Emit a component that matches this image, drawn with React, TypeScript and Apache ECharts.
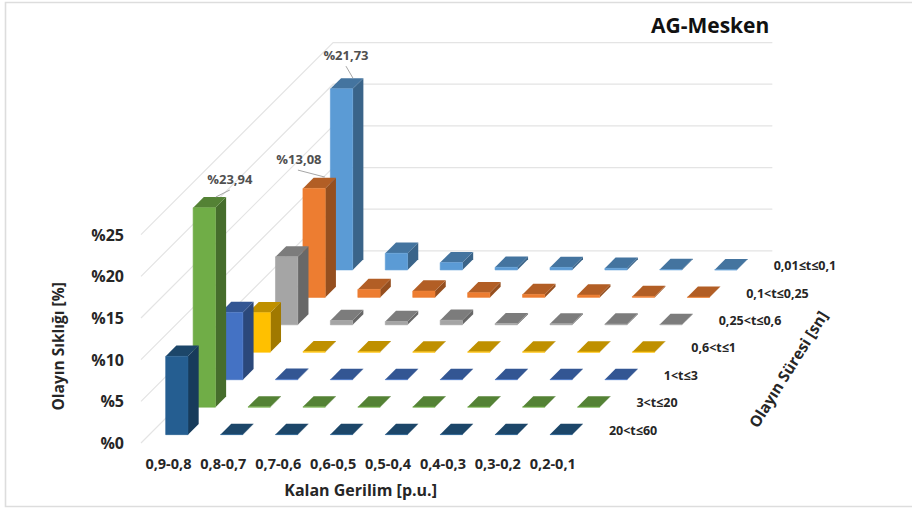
import React, { useEffect, useRef } from "react";
import * as echarts from "echarts";

// Remaining voltage bands along the front of the floor.
const voltageBands = ["0,9-0,8", "0,8-0,7", "0,7-0,6", "0,6-0,5", "0,5-0,4", "0,4-0,3", "0,3-0,2", "0,2-0,1"];

// Duration classes, listed from the front row to the back row.
const durationClasses = ["20<t≤60", "3<t≤20", "1<t≤3", "0,6<t≤1", "0,25<t≤0,6", "0,1<t≤0,25", "0,01≤t≤0,1"];

// Event frequency in percent for every duration class.
const row20to60 = [9.4, 0.03, 0.03, 0.03, 0.03, 0.03, 0.02, 0.02];
const row3to20 = [23.94, 0.04, 0.04, 0.03, 0.03, 0.03, 0.03, 0.02];
const row1to3 = [8.08, 0.05, 0.04, 0.04, 0.03, 0.03, 0.03, 0.03];
const row06to1 = [4.75, 0.08, 0.06, 0.05, 0.05, 0.05, 0.04, 0.04];
const row025to06 = [8.16, 0.52, 0.4, 0.56, 0.15, 0.12, 0.1, 0.05];
const row01to025 = [13.08, 0.96, 0.76, 0.56, 0.36, 0.28, 0.12, 0.03];
const row001to01 = [21.73, 2.0, 0.88, 0.32, 0.3, 0.2, 0.05, 0.02];
const rowValues = [row20to60, row3to20, row1to3, row06to1, row025to06, row01to025, row001to01];

const valueTicks = [0, 5, 10, 15, 20, 25];

// Front, top and side shades of each row's bars.
const rowShades = [
  ["#255E91", "#1C4669", "#173B5B"],
  ["#70AD47", "#548235", "#466D2C"],
  ["#4472C4", "#335693", "#2B487B"],
  ["#FFC000", "#BF9000", "#A07900"],
  ["#A5A5A5", "#7C7C7C", "#686868"],
  ["#ED7D31", "#B25E25", "#954F1F"],
  ["#5B9BD5", "#44749F", "#3A6489"],
];

// Oblique projection: each row moves the same distance right and up.
const ROW_STEP = 27.45;
const BAR_WIDTH = 22.3;
const BAR_DEPTH = 10.7;
const ROW_COUNT = durationClasses.length;

const FONT = "'Open Sans'";
const WALL = "#e4e4e4";

// Callouts for the tall bars: label centre and leader ends, relative to the bar's front top-left corner.
const callouts = [
  { row: 6, col: 0, label: [15.6, -33.7], from: [15.6, -22.7], to: [22.6, -10.7] },
  { row: 5, col: 0, label: [-4, -29.3], from: [-5, -18.3], to: [22, -11.3] },
  { row: 1, col: 0, label: [36.7, -28.7], from: [36.7, -17.7], to: [22.7, -10.7] },
];

const percentText = (v: number) => "%" + v.toFixed(2).replace(".", ",");

// Screen position of a bar's front bottom-left corner and of its front top edge.
function barCorners(api: any, row: number, col: number, value: number) {
  const base = api.coord([col, 0]);
  const top = api.coord([col, value]);
  const shift = (row + 0.5) * ROW_STEP - BAR_DEPTH / 2;
  return { x: base[0] - BAR_WIDTH / 2 + shift, yBase: base[1] - shift, yTop: top[1] - shift };
}

function barSeries(row: number) {
  const [front, topFace, side] = rowShades[row];
  return {
    type: "custom",
    name: durationClasses[row],
    z: 10 + (ROW_COUNT - row),
    silent: true,
    data: rowValues[row].map((v, col) => [col, v]),
    renderItem: (_: any, api: any) => {
      const { x, yBase, yTop } = barCorners(api, row, api.value(0), api.value(1));
      const r = x + BAR_WIDTH;
      const d = BAR_DEPTH;
      return {
        type: "group",
        children: [
          {
            type: "polygon",
            shape: { points: [[r, yBase], [r + d, yBase - d], [r + d, yTop - d], [r, yTop]] },
            style: { fill: side },
          },
          {
            type: "polygon",
            shape: { points: [[x, yTop], [r, yTop], [r + d, yTop - d], [x + d, yTop - d]] },
            style: { fill: topFace },
          },
          {
            type: "polygon",
            shape: { points: [[x, yBase], [r, yBase], [r, yTop], [x, yTop]] },
            style: { fill: front, stroke: front, lineWidth: 0.6 },
          },
        ],
      };
    },
  };
}

// Left wall and back wall gridlines, one per value tick.
const wallSeries = {
  type: "custom",
  name: "walls",
  z: 1,
  silent: true,
  data: valueTicks.map((v) => [0, v]),
  renderItem: (params: any, api: any) => {
    const g = params.coordSys;
    const y = api.coord([0, api.value(1)])[1];
    const depth = ROW_COUNT * ROW_STEP;
    return {
      type: "polyline",
      shape: { points: [[g.x, y], [g.x + depth, y - depth], [g.x + g.width + depth, y - depth]] },
      style: { fill: "none", stroke: WALL, lineWidth: 1.2 },
    };
  },
};

// Duration class names beside the right end of every row.
const rowLabelSeries = {
  type: "custom",
  name: "rowLabels",
  z: 30,
  silent: true,
  data: durationClasses.map((_, row) => [0, 0, row]),
  renderItem: (params: any, api: any) => {
    const g = params.coordSys;
    const row = api.value(2);
    const shift = (row + 0.5) * ROW_STEP;
    return {
      type: "text",
      x: g.x + g.width + shift + 15,
      y: g.y + g.height - shift + 1,
      style: {
        text: durationClasses[row],
        fill: "#262626",
        font: `bold 12.5px ${FONT}`,
        textAlign: "left",
        textVerticalAlign: "middle",
      },
    };
  },
};

// Value labels with their leader lines for the tall bars.
const calloutSeries = {
  type: "custom",
  name: "callouts",
  z: 40,
  silent: true,
  data: callouts.map((c, i) => [c.col, rowValues[c.row][c.col], i]),
  renderItem: (_: any, api: any) => {
    const c = callouts[api.value(2)];
    const value = api.value(1);
    const { x, yTop } = barCorners(api, c.row, c.col, value);
    return {
      type: "group",
      children: [
        {
          type: "line",
          shape: { x1: x + c.from[0], y1: yTop + c.from[1], x2: x + c.to[0], y2: yTop + c.to[1] },
          style: { stroke: "#a6a6a6", lineWidth: 1 },
        },
        {
          type: "text",
          x: x + c.label[0],
          y: yTop + c.label[1],
          style: {
            text: percentText(value),
            fill: "#505050",
            font: `bold 13px ${FONT}`,
            textAlign: "center",
            textVerticalAlign: "middle",
          },
        },
      ],
    };
  },
};

export default function App() {
  const ref = useRef<HTMLDivElement>(null);

  useEffect(() => {
    document.body.style.margin = "0";
    const chart = echarts.init(ref.current!, undefined, { renderer: "svg" });
    chart.setOption({
      animation: false,
      backgroundColor: "#ffffff",
      title: {
        text: "AG-Mesken",
        left: 651,
        top: 14,
        padding: 0,
        textStyle: { fontFamily: FONT, fontWeight: "bold", fontSize: 21, color: "#111111" },
      },
      grid: { left: 141, top: 234.7, width: 439.2, height: 208.3 },
      xAxis: {
        type: "category",
        data: voltageBands,
        name: "Kalan Gerilim [p.u.]",
        nameLocation: "middle",
        nameGap: 39,
        nameTextStyle: { fontFamily: FONT, fontWeight: "bold", fontSize: 16, color: "#262626" },
        axisLine: { show: false },
        axisTick: { show: false },
        splitLine: { show: false },
        axisLabel: {
          interval: 0,
          margin: 13,
          fontFamily: FONT,
          fontWeight: "bold",
          fontSize: 14.5,
          color: "#262626",
        },
      },
      yAxis: {
        type: "value",
        min: 0,
        max: 25,
        interval: 5,
        name: "Olayın Sıklığı [%]",
        nameLocation: "middle",
        nameGap: 75,
        nameRotate: 90,
        nameTextStyle: {
          fontFamily: FONT,
          fontWeight: "bold",
          fontSize: 15.5,
          color: "#262626",
          padding: [0, 15, 0, 0],
        },
        axisLine: { show: false },
        axisTick: { show: false },
        splitLine: { show: false },
        axisLabel: {
          margin: 17,
          formatter: "%{value}",
          fontFamily: FONT,
          fontWeight: "bold",
          fontSize: 16,
          color: "#262626",
        },
      },
      graphic: [
        {
          type: "polyline",
          silent: true,
          shape: { points: [[912, 2.5], [5.5, 2.5], [5.5, 506.5], [912, 506.5]] },
          style: { fill: "none", stroke: "#dddddd", lineWidth: 1.6 },
        },
        {
          type: "text",
          x: 788,
          y: 369,
          rotation: (58 * Math.PI) / 180,
          style: {
            text: "Olayın Süresi [sn]",
            fill: "#262626",
            font: `bold 15.5px ${FONT}`,
            textAlign: "center",
            textVerticalAlign: "middle",
          },
        },
      ],
      series: [wallSeries, ...rowValues.map((_, row) => barSeries(row)), rowLabelSeries, calloutSeries],
    });
    return () => chart.dispose();
  }, []);

  return <div ref={ref} style={{ width: 912, height: 509, overflow: "hidden" }} />;
}
